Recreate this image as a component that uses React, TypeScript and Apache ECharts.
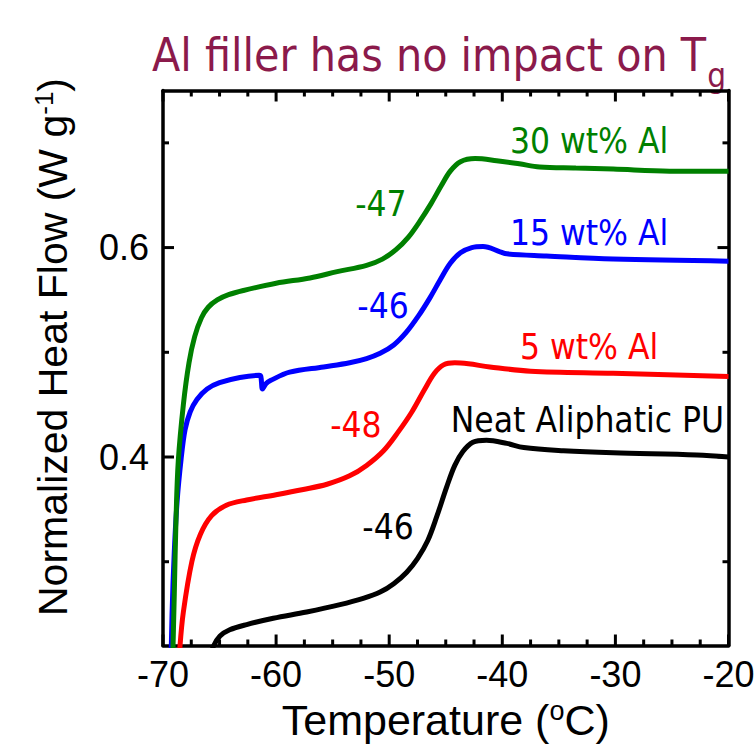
import React, { useEffect, useRef } from "react";
import * as echarts from "echarts";

// ---- data (Temperature °C, Normalized heat flow W/g) ----
const xMajorTicks = [-70, -60, -50, -40, -30, -20];
const xMinorTicks = [-67.5, -65, -62.5, -57.5, -55, -52.5, -47.5, -45, -42.5, -37.5, -35, -32.5, -27.5, -25, -22.5];
const yMajorTicks = [0.4, 0.6];
const yMinorTicks = [0.3, 0.5, 0.7];

const neatPU: [number, number][] = [
  [-65.9, 0.205], [-65.55, 0.219], [-64.96, 0.229], [-64.1, 0.235], [-62.6, 0.24],
  [-60.25, 0.246], [-57.3, 0.252], [-54.35, 0.259], [-52.3, 0.265], [-50.8, 0.271],
  [-49.6, 0.279], [-48.45, 0.29], [-47.5, 0.303], [-46.6, 0.32], [-45.8, 0.343],
  [-44.9, 0.372], [-44.2, 0.392], [-43.5, 0.405], [-42.6, 0.414], [-41.4, 0.416],
  [-39.6, 0.413], [-38.1, 0.409], [-34.6, 0.406], [-30.2, 0.404], [-22.8, 0.402],
  [-20.0, 0.4],
];

const al5: [number, number][] = [
  [-68.7, 0.18], [-68.5, 0.219], [-68.2, 0.252], [-67.45, 0.3], [-66.7, 0.326],
  [-65.7, 0.344], [-64.4, 0.354], [-62.6, 0.359], [-60.0, 0.364], [-57.6, 0.369],
  [-55.5, 0.374], [-53.5, 0.382], [-52.0, 0.392], [-50.5, 0.406], [-49.2, 0.424],
  [-48.0, 0.443], [-46.9, 0.464], [-46.0, 0.48], [-45.2, 0.488], [-44.2, 0.49],
  [-43.0, 0.489], [-41.1, 0.486], [-37.5, 0.482], [-30.2, 0.48], [-20.0, 0.477],
];

const al15: [number, number][] = [
  [-69.35, 0.17], [-69.2, 0.25], [-69.0, 0.31], [-68.75, 0.358], [-68.4, 0.398],
  [-68.05, 0.426], [-67.6, 0.443], [-67.0, 0.455], [-66.1, 0.465], [-65.0, 0.471],
  [-63.2, 0.476], [-61.5, 0.478], [-61.35, 0.477], [-61.2, 0.465], [-60.9, 0.47],
  [-60.5, 0.473], [-58.8, 0.481], [-55.8, 0.486], [-53.5, 0.49], [-52.0, 0.494],
  [-50.8, 0.499], [-49.6, 0.507], [-48.5, 0.519], [-47.4, 0.535], [-46.4, 0.552],
  [-45.5, 0.569], [-44.6, 0.585], [-43.7, 0.595], [-42.7, 0.6], [-41.7, 0.601],
  [-40.2, 0.596], [-39.6, 0.594], [-36.1, 0.592], [-30.2, 0.589], [-20.0, 0.587],
];

const al30: [number, number][] = [
  [-69.2, 0.18], [-69.0, 0.27], [-68.85, 0.34], [-68.65, 0.396], [-68.2, 0.45],
  [-67.7, 0.49], [-67.2, 0.515], [-66.6, 0.533], [-66.0, 0.543], [-65.2, 0.55],
  [-64.2, 0.555], [-62.9, 0.559], [-60.0, 0.566], [-57.0, 0.571], [-54.6, 0.577],
  [-52.0, 0.583], [-50.6, 0.589], [-49.4, 0.598], [-48.3, 0.61], [-47.3, 0.625],
  [-46.3, 0.642], [-45.4, 0.659], [-44.6, 0.673], [-43.7, 0.682], [-42.4, 0.685],
  [-40.5, 0.683], [-38.5, 0.68], [-36.7, 0.677], [-33.5, 0.676], [-30.2, 0.675],
  [-25.2, 0.673], [-20.0, 0.673],
];

const seriesNames = ["Neat Aliphatic PU", "5 wt% Al", "15 wt% Al", "30 wt% Al"];
const seriesColors = ["#000000", "#ff0000", "#0000ff", "#008000"];
const seriesData = [neatPU, al5, al15, al30];

// annotations: text, colour, anchor (data coords)
const annoTexts = ["30 wt% Al", "15 wt% Al", "5 wt% Al", "Neat Aliphatic PU", "-47", "-46", "-48", "-46"];
const annoColors = ["#008000", "#0000ff", "#ff0000", "#000000", "#008000", "#0000ff", "#ff0000", "#000000"];
const annoX = [-32.33, -32.33, -32.33, -32.47, -50.73, -50.55, -52.94, -50.1];
const annoY = [0.702, 0.614, 0.505, 0.435, 0.642, 0.544, 0.431, 0.333];

const titleMain = "Al filler has no impact on T";
const titleSub = "g";

const X_MIN = -70;
const X_MAX = -20;
const Y_MIN = 0.22;
const Y_MAX = 0.75;

const AXIS_FONT = "'Liberation Sans', Arial, sans-serif";
const NOTE_FONT = "'DejaVu Sans Condensed', 'DejaVu Sans', sans-serif";

export default function App() {
  const ref = useRef<HTMLDivElement>(null);
  useEffect(() => {
    document.body.style.margin = "0";
    const chart = echarts.init(ref.current!, null, { renderer: "svg" });
    const black = "#000000";
    const lineW = 3.5;
    const baseAxis = {
      type: "value" as const,
      splitLine: { show: false },
      axisTick: { show: false },
      minorTick: { show: false },
      axisLine: { show: true, onZero: false, lineStyle: { color: black, width: lineW } },
    };
    const xCommon = { ...baseAxis, min: X_MIN, max: X_MAX, interval: 10 };
    const yCommon = { ...baseAxis, min: Y_MIN, max: Y_MAX };

    chart.setOption({
      animation: false,
      backgroundColor: "#ffffff",
      grid: { left: 163, right: 25.5, top: 90.5, bottom: 104.5, outerBoundsMode: "none", containLabel: false },
      xAxis: [
        {
          ...xCommon,
          position: "bottom",
          axisLabel: {
            show: true,
            color: black,
            fontFamily: AXIS_FONT,
            fontSize: 36,
            margin: 11,
            showMinLabel: true,
            showMaxLabel: true,
            formatter: (v: number) => (xMajorTicks.includes(v) ? String(v) : ""),
          },
          name: "Temperature ({sup|o}C)",
          nameLocation: "middle",
          nameGap: 50,
          nameTextStyle: {
            color: black,
            fontFamily: AXIS_FONT,
            fontSize: 43,
            lineHeight: 46,
            rich: {
              sup: { fontFamily: AXIS_FONT, fontSize: 27, lineHeight: 27, verticalAlign: "top", color: black },
            },
          },
        },
        { ...xCommon, position: "top", axisLabel: { show: false } },
      ],
      yAxis: [
        {
          ...yCommon,
          position: "left",
          axisLabel: {
            show: true,
            customValues: yMajorTicks,
            color: black,
            fontFamily: AXIS_FONT,
            fontSize: 36,
            margin: 14,
            formatter: (v: number) => v.toFixed(1),
          },
          name: "Normalized Heat Flow (W g{sup|-1})",
          nameLocation: "middle",
          nameGap: 88,
          nameRotate: 90,
          nameTextStyle: {
            color: black,
            fontFamily: AXIS_FONT,
            fontSize: 41,
            lineHeight: 44,
            padding: [0, 0, 0, 42],
            rich: {
              sup: { fontFamily: AXIS_FONT, fontSize: 26, lineHeight: 26, verticalAlign: "top", color: black },
            },
          },
        },
        { ...yCommon, position: "right", axisLabel: { show: false } },
      ],
      series: seriesData.map((d, i) => ({
        type: "line",
        name: seriesNames[i],
        data: d,
        xAxisIndex: 0,
        yAxisIndex: 0,
        showSymbol: false,
        symbol: "none",
        smooth: 0.35,
        clip: true,
        z: 2 + i,
        lineStyle: { color: seriesColors[i], width: 5 },
        itemStyle: { color: seriesColors[i] },
      })),
    });

    // tick marks placed from the axis scale (convertToPixel), drawn as thin rects
    const px = (x: number, y: number) => chart.convertToPixel({ gridIndex: 0 }, [x, y]) as number[];
    const tw = 3;
    const ticks: any[] = [];
    const addX = (v: number, len: number) => {
      const b = px(v, Y_MIN);
      const t = px(v, Y_MAX);
      ticks.push({ type: "rect", z: 60, shape: { x: b[0] - tw / 2, y: b[1] - len, width: tw, height: len }, style: { fill: black } });
      ticks.push({ type: "rect", z: 60, shape: { x: t[0] - tw / 2, y: t[1], width: tw, height: len }, style: { fill: black } });
    };
    const addY = (v: number, len: number) => {
      const l = px(X_MIN, v);
      const r = px(X_MAX, v);
      ticks.push({ type: "rect", z: 60, shape: { x: l[0], y: l[1] - tw / 2, width: len, height: tw }, style: { fill: black } });
      ticks.push({ type: "rect", z: 60, shape: { x: r[0] - len, y: r[1] - tw / 2, width: len, height: tw }, style: { fill: black } });
    };
    xMajorTicks.forEach((v) => addX(v, 11));
    xMinorTicks.forEach((v) => addX(v, 6));
    yMajorTicks.forEach((v) => addY(v, 11));
    yMinorTicks.forEach((v) => addY(v, 6));

    // measure title width for subscript placement
    const cv = document.createElement("canvas").getContext("2d")!;
    cv.font = `46px ${NOTE_FONT}`;
    const titleW = cv.measureText(titleMain).width;
    const titleX = 152;

    const notes = annoTexts.map((t, i) => {
      const p = px(annoX[i], annoY[i]);
      return {
        type: "text",
        x: p[0],
        y: p[1],
        z: 50,
        style: {
          text: t,
          fill: annoColors[i],
          font: `35px ${NOTE_FONT}`,
          align: "center",
          verticalAlign: "middle",
        },
      };
    });

    chart.setOption({
      graphic: [
        {
          type: "text",
          x: titleX,
          y: 55,
          style: { text: titleMain, fill: "#8b1a4b", font: `46px ${NOTE_FONT}`, align: "left", verticalAlign: "middle" },
        },
        {
          type: "text",
          x: titleX + titleW + 1,
          y: 75,
          style: { text: titleSub, fill: "#8b1a4b", font: `33px ${NOTE_FONT}`, align: "left", verticalAlign: "middle" },
        },
        ...notes,
        ...ticks,
      ],
    });

    return () => chart.dispose();
  }, []);
  return <div ref={ref} style={{ width: 754, height: 750 }} />;
}
